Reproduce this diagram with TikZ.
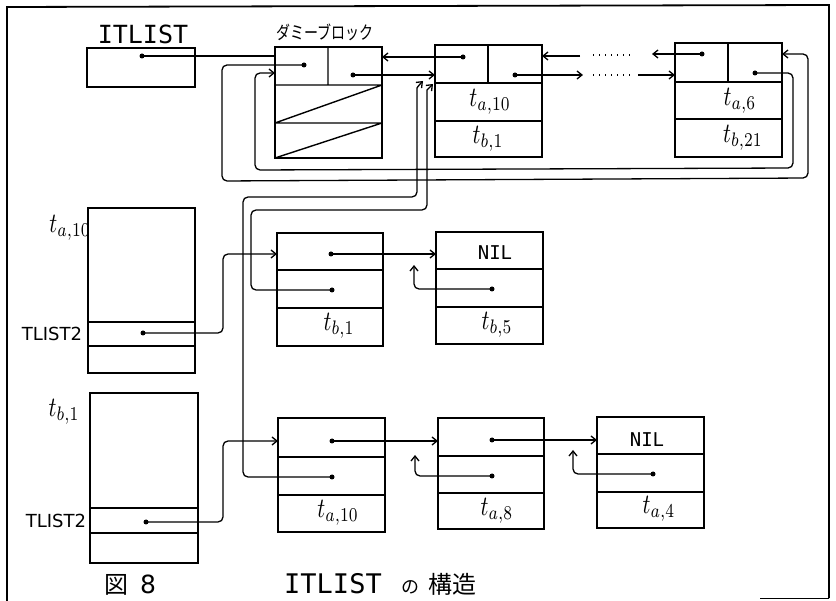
\documentclass[tikz,border=0pt]{standalone}
\usepackage{fontspec}
\newfontfamily\monof{DejaVu Sans Mono}
\newfontfamily\sansf{DejaVu Sans}
\newfontfamily\jpf{Noto Sans CJK JP}
\usetikzlibrary{arrows.meta,calc}
\newcommand{\tlab}[1]{\scalebox{2.2}[2.8]{$#1$}}
\begin{document}
\begin{tikzpicture}[x=1pt,y=-1pt,
  box/.style={draw, line width=1.6pt, inner sep=0pt, outer sep=0pt, anchor=north west},
  cell/.style={line width=1.4pt},
  link/.style={line width=1.3pt, rounded corners=5pt},
  arr/.style={link, -{Straight Barb[length=5pt,width=8pt,line width=1.3pt]}},
  dot/.style={circle, fill, inner sep=0pt, minimum size=5pt},
  tl/.style={inner sep=0pt},
  lbl/.style={inner sep=0pt},
  dotline/.style={line width=1.3pt, dash pattern=on 1.4pt off 4.6pt}
  ]
\useasboundingbox (0,0) rectangle (836,601);
% frame
\draw[line width=1.8pt] (7,601) -- (7,7) -- (829,5) -- (829,598);
\draw[line width=0.8pt] (760,598) -- (829,598);

% ---- boxes
\node[box, minimum width=108pt, minimum height=39pt] (itl) at (87,48) {};
\node[box, minimum width=107pt, minimum height=111pt] (dum) at (275,47) {};
\node[box, minimum width=107pt, minimum height=112pt] (b2) at (435,45) {};
\node[box, minimum width=107pt, minimum height=114pt] (tail) at (675,43) {};
\node[box, minimum width=107pt, minimum height=165pt] (bigA) at (88,208) {};
\node[box, minimum width=108pt, minimum height=170pt] (bigB) at (90,393) {};
\node[box, minimum width=106pt, minimum height=113pt] (r21) at (277,233) {};
\node[box, minimum width=107pt, minimum height=112pt] (r22) at (436,232) {};
\node[box, minimum width=107pt, minimum height=114pt] (r31) at (278,418) {};
\node[box, minimum width=106pt, minimum height=111pt] (r32) at (438,418) {};
\node[box, minimum width=107pt, minimum height=111pt] (r33) at (597,417) {};

% ---- inner divisions
\draw[cell] (328,47) -- (328,85) (275,85) -- (382,85) (275,123) -- (382,123)
            (275,123) -- (382,85) (275,158) -- (382,123);
\draw[cell] (488,45) -- (488,83) (435,83) -- (542,83) (435,121) -- (542,121);
\draw[cell] (728,43) -- (728,82) (675,82) -- (782,82) (675,119) -- (782,119);
\draw[cell] (88,322) -- (195,322) (88,346) -- (195,346);
\draw[cell] (90,508) -- (198,508) (90,533) -- (198,533);
\draw[cell] (277,270) -- (383,270) (277,308) -- (383,308);
\draw[cell] (436,269) -- (543,269) (436,307) -- (543,307);
\draw[cell] (278,457) -- (385,457) (278,495) -- (385,495);
\draw[cell] (438,456) -- (544,456) (438,493) -- (544,493);
\draw[cell] (597,454) -- (704,454) (597,492) -- (704,492);

% ---- dots
\node[dot] (dI) at (142,56) {};
\node[dot] (dDL) at (304,65) {};
\node[dot] (dDR) at (353,75) {};
\node[dot] (dBL) at (463,57) {};
\node[dot] (dBR) at (515,75) {};
\node[dot] (dTL) at (702,54) {};
\node[dot] (dTR) at (755,73) {};
\node[dot] (dA) at (143,333) {};
\node[dot] (dB) at (146,522) {};
\node[dot] (d21t) at (331,254) {};
\node[dot] (d21m) at (332,290) {};
\node[dot] (d22m) at (492,289) {};
\node[dot] (d31t) at (332,441) {};
\node[dot] (d31m) at (332,477) {};
\node[dot] (d32t) at (492,440) {};
\node[dot] (d32m) at (492,476) {};
\node[dot] (d33m) at (653,474) {};

\coordinate (g1) at (638,75);
\coordinate (g2) at (580,56);
\coordinate (g3) at (583,75);
\coordinate (g4) at (652,54);

% ---- connectors, main list
\draw[link] (dI.center) -- (dI.center -| dum.west);
\draw[arr] (dDL.center) -- (222,65) -- (222,181) -- (808,178) -- (808,54) -- (tail.east |- dTL);
\draw[arr] (dTR.center) -- (793,73) -- (793,168) -- (255,170) -- (255,73) -- (dum.west |- dTR);
\draw[arr] (dDR.center) -- (dDR.center -| b2.west);
\draw[arr] (dBL.center) -- (dBL.center -| dum.east);
\draw[arr] (dBR.center) -- (g3);
\draw[dotline] (593,75) -- (633,75);
\draw[arr] (g1) -- (g1 -| tail.west);
\draw[arr] (g2) -- (g2 -| b2.east);
\draw[dotline] (593,55) -- (633,55);
\draw[arr] (dTL.center) -- (g4);

% ---- back pointers to ITLIST element
\draw[arr] (d31m.center) -- (243,477) -- (243,197) -- (417,197) -- (417,93) to[out=90,in=225] (423,81);
\draw[arr] (d21m.center) -- (251,290) -- (251,210) -- (427,210) -- (427,95) to[out=90,in=225] (433,84);

% ---- sub lists
\draw[arr] (dA.center) -- (223,333) -- (223,254) -- (r21.west |- d21t);
\draw[arr] (d21t.center) -- (d21t.center -| r22.west);
\draw[arr] (d22m.center) -- (414,289) -- (414,265);
\draw[arr] (dB.center) -- (223,522) -- (223,441) -- (r31.west |- d31t);
\draw[arr] (d31t.center) -- (d31t.center -| r32.west);
\draw[arr] (d32t.center) -- (d32t.center -| r33.west);
\draw[arr] (d32m.center) -- (415,476) -- (415,455);
\draw[arr] (d33m.center) -- (573,474) -- (573,450);

% ---- labels
\node[lbl, font=\monof\fontsize{25}{25}\selectfont] (lITL) at (143,34) {ITLIST};
\node[lbl, font=\jpf\fontsize{14}{14}\selectfont] (lDum) at (325,32) {\scalebox{1}[1.3]{ダミーブロック}};
\node[tl] (lb2a) at (490,102) {\tlab{t_{a,10}}};
\node[tl] (lb2b) at (488,139) {\tlab{t_{b,1}}};
\node[tl] (lta) at (740,101) {\tlab{t_{a,6}}};
\node[tl] (ltb) at (743,138) {\tlab{t_{b,21}}};
\node[tl] (lA) at (70,228) {\tlab{t_{a,10}}};
\node[tl] (lB) at (64,412) {\tlab{t_{b,1}}};
\node[lbl, font=\sansf\fontsize{18}{18}\selectfont] (lT2a) at (52,334) {TLIST2};
\node[lbl, font=\sansf\fontsize{18}{18}\selectfont] (lT2b) at (56,521) {TLIST2};
\node[tl] (l21) at (339,326) {\tlab{t_{b,1}}};
\node[tl] (l22) at (497,325) {\tlab{t_{b,5}}};
\node[tl] (l31) at (338,513) {\tlab{t_{a,10}}};
\node[tl] (l32) at (497,511) {\tlab{t_{a,8}}};
\node[tl] (l33) at (659,509) {\tlab{t_{a,4}}};
\node[lbl, font=\monof\fontsize{19}{19}\selectfont] (nil1) at (495,253) {NIL};
\node[lbl, font=\monof\fontsize{19}{19}\selectfont] (nil2) at (647,440) {NIL};
% caption
\node[lbl, anchor=base, font=\jpf\fontsize{24}{24}\selectfont] (cz) at (116,593) {図};
\node[lbl, anchor=base, font=\sansf\fontsize{25}{25}\selectfont] (c8) at (148,594) {8};
\node[lbl, anchor=base, font=\monof\fontsize{27}{27}\selectfont] (cI) at (333,594) {ITLIST};
\node[lbl, anchor=base, font=\jpf\fontsize{18}{18}\selectfont] (cno) at (410,593) {の};
\node[lbl, anchor=base, font=\jpf\fontsize{24}{24}\selectfont] (ck) at (452,593) {構造};
\end{tikzpicture}
\end{document}
